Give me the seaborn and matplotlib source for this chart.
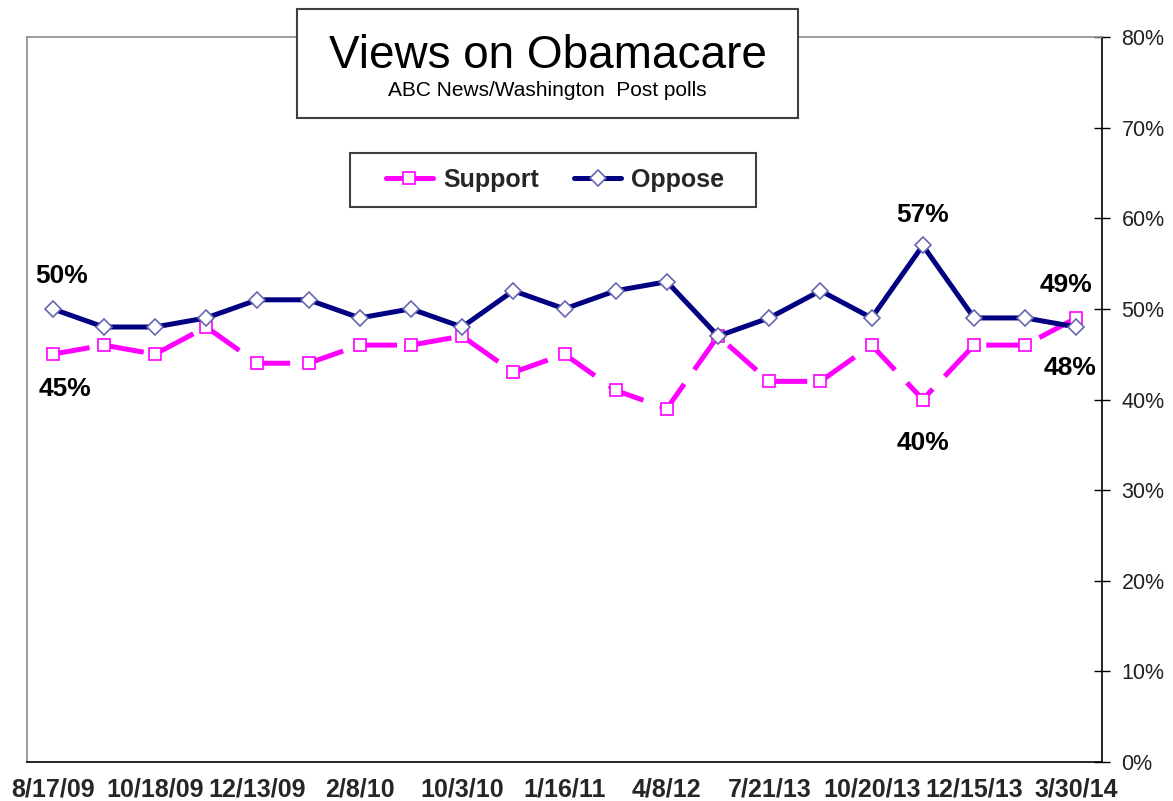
import numpy as np
import pandas as pd
import matplotlib
matplotlib.use("Agg")
import matplotlib.pyplot as plt
import seaborn as sns
from matplotlib.patches import Rectangle
from matplotlib.lines import Line2D
from matplotlib.ticker import FuncFormatter

# ------------------------------------------------------------
# data
# ------------------------------------------------------------
tick_labels = ["8/17/09", "10/18/09", "12/13/09", "2/8/10", "10/3/10", "1/16/11",
               "4/8/12", "7/21/13", "10/20/13", "12/15/13", "3/30/14"]
support = [45, 46, 45, 48, 44, 44, 46, 46, 47, 43, 45, 41, 39, 47, 42, 42, 46, 40, 46, 46, 49]
oppose = [50, 48, 48, 49, 51, 51, 49, 50, 48, 52, 50, 52, 53, 47, 49, 52, 49, 57, 49, 49, 48]

# point labels: (poll index, series, text offset x, text offset y)
callouts = [(0, "Oppose", 0.18, 3.6), (0, "Support", 0.24, -3.8),
            (17, "Oppose", 0.0, 3.4), (17, "Support", 0.0, -4.8),
            (20, "Support", -0.21, 3.6), (20, "Oppose", -0.13, -4.5)]

df = pd.DataFrame({"poll": np.arange(len(support)), "Support": support, "Oppose": oppose})

MAGENTA = "#FF00FF"
NAVY = "#000080"
DIAMOND_EDGE = "#6666B0"

sns.set_style("white")
plt.rcParams["font.family"] = ["Liberation Sans", "DejaVu Sans"]

fig = plt.figure(figsize=(11.73, 8.01), dpi=100)
ax = fig.add_axes([27 / 1173, 1 - 762 / 801, (1102 - 27) / 1173, (762 - 37) / 801])

sns.lineplot(data=df, x="poll", y="Support", ax=ax, color=MAGENTA, lw=3.6,
             marker="s", markersize=9, markerfacecolor="white",
             markeredgecolor=MAGENTA, markeredgewidth=1.2, legend=False, zorder=3)
ax.lines[-1].set_dashes([7.5, 3.5])
sns.lineplot(data=df, x="poll", y="Oppose", ax=ax, color=NAVY, lw=3.6,
             marker="D", markersize=8, markerfacecolor="white",
             markeredgecolor=DIAMOND_EDGE, markeredgewidth=1.2, legend=False, zorder=4)

for idx, series, dx, dy in callouts:
    val = df.loc[idx, series]
    ax.text(idx + dx, val + dy, f"{val}%", ha="center", va="center",
            fontsize=19, fontweight="bold", color="black", zorder=5)

# axes / ticks
ax.set_xlim(-0.5, len(support) - 0.5)
ax.set_ylim(0, 80)
ax.set_xlabel("")
ax.set_ylabel("")
ax.set_xticks(np.arange(0, len(support), 2))
ax.set_xticklabels(tick_labels, fontsize=18, fontweight="bold")
ax.set_xticks(np.arange(-0.5, len(support), 1), minor=True)
ax.tick_params(axis="x", which="major", length=0, pad=11)
ax.tick_params(axis="x", which="minor", direction="inout", length=11.5, width=1, color="black")

ax.yaxis.tick_right()
ax.set_yticks(np.arange(0, 81, 10))
ax.yaxis.set_major_formatter(FuncFormatter(lambda v, p: f"{int(v)}%"))
ax.tick_params(axis="y", which="major", direction="inout", length=11, width=1,
               color="black", labelsize=15.5, labelcolor="#222222", pad=8.5,
               right=True, left=False)

for side in ["left", "top"]:
    ax.spines[side].set_color("#8C8C8C")
    ax.spines[side].set_linewidth(1.2)
for side in ["right", "bottom"]:
    ax.spines[side].set_color("black")
    ax.spines[side].set_linewidth(1.2)
    ax.spines[side].set_visible(True)

# title box
fig.add_artist(Rectangle((297 / 1173, 1 - 118 / 801), 501 / 1173, 109 / 801,
                         transform=fig.transFigure, facecolor="white",
                         edgecolor="#404040", lw=1.5, zorder=6))
fig.text(548 / 1173, 1 - 68 / 801, "Views on Obamacare", ha="center", va="baseline",
         fontsize=33, color="black", zorder=7)
fig.text(547 / 1173, 1 - 96 / 801, "ABC News/Washington  Post polls", ha="center",
         va="baseline", fontsize=15, color="black", zorder=7)

# legend box
fig.add_artist(Rectangle((350 / 1173, 1 - 207 / 801), 406 / 1173, 54 / 801,
                         transform=fig.transFigure, facecolor="white",
                         edgecolor="#404040", lw=1.5, zorder=6))
handles = [
    Line2D([], [], color=MAGENTA, lw=3.6, marker="s", markersize=9,
           markerfacecolor="white", markeredgecolor=MAGENTA, markeredgewidth=1.2),
    Line2D([], [], color=NAVY, lw=3.6, marker="D", markersize=8,
           markerfacecolor="white", markeredgecolor=DIAMOND_EDGE, markeredgewidth=1.2),
]
leg = fig.legend(handles, ["Support", "Oppose"], loc="center",
                 bbox_to_anchor=(555 / 1173, 1 - 180 / 801), ncol=2, frameon=False,
                 prop={"size": 18, "weight": "bold"}, handlelength=1.9,
                 handletextpad=0.4, columnspacing=1.4)
leg.set_zorder(7)

fig.savefig("out.png", dpi=100)
